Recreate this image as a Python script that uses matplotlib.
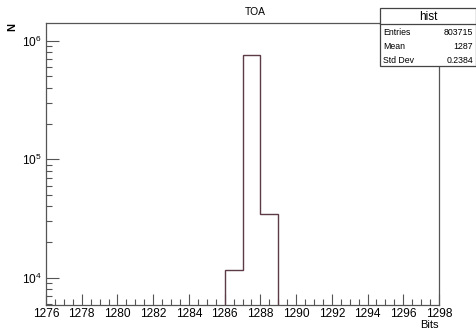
import numpy as np
import matplotlib
matplotlib.use("Agg")
import matplotlib.pyplot as plt
from matplotlib.ticker import MultipleLocator, LogLocator, FuncFormatter

plt.rcParams['font.family'] = ['Liberation Sans', 'DejaVu Sans']
plt.rcParams['mathtext.fontset'] = 'custom'
plt.rcParams['mathtext.rm'] = 'Liberation Sans'
plt.rcParams['mathtext.it'] = 'Liberation Sans'

# Histogram contents (TOA, in bits)
bin_edges = [1286, 1287, 1288, 1289]
bin_counts = [11600, 757315, 34800]

title = "TOA"
hist_name = "hist"
stat_labels = ["Entries", "Mean", "Std Dev"]
stat_values = ["803715", "1287", "0.2384"]

line_col = "#5c3a46"
frame_col = "#555555"

W, H = 477, 331
fig = plt.figure(figsize=(W/100, H/100), dpi=100)
ax = fig.add_axes([46/W, 1-305/H, (439-46)/W, (305-23)/H])

# step outline of the histogram, dropping to the bottom edge
ymin, ymax = 5.9e3, 1.41e6
xs = [bin_edges[0]]
ys = [ymin]
for i, c in enumerate(bin_counts):
    xs += [bin_edges[i], bin_edges[i+1]]
    ys += [c, c]
xs.append(bin_edges[-1])
ys.append(ymin)
ax.plot(xs, ys, color=line_col, lw=1.0, solid_joinstyle='miter')

ax.set_xlim(1276, 1298)
ax.set_yscale('log')
ax.set_ylim(ymin, ymax)

for s in ax.spines.values():
    s.set_color(frame_col)
    s.set_linewidth(0.9)

ax.xaxis.set_major_locator(MultipleLocator(2))
ax.xaxis.set_minor_locator(MultipleLocator(0.5))
ax.yaxis.set_major_locator(LogLocator(base=10, numticks=10))
ax.yaxis.set_minor_locator(LogLocator(base=10, subs=np.arange(2, 10), numticks=20))
ax.yaxis.set_minor_formatter(FuncFormatter(lambda v, p: ""))
ax.yaxis.set_major_formatter(FuncFormatter(lambda v, p: r"$10^{%d}$" % round(np.log10(v))))

ax.tick_params(axis='both', which='both', direction='in', color=frame_col,
               top=False, right=False, labelsize=8.6, labelcolor='black')
ax.tick_params(axis='x', which='major', length=8, width=0.8, pad=2.5)
ax.tick_params(axis='x', which='minor', length=4, width=0.8)
ax.tick_params(axis='y', which='major', length=9, width=0.8, pad=3)
ax.tick_params(axis='y', which='minor', length=4.5, width=0.8)

fig.text(255/W, 1-12/H, title, ha='center', va='center', fontsize=7.4)
fig.text(439/W, 1-325.5/H, "Bits", ha='right', va='center', fontsize=8)
fig.text(12/W, 1-27/H, "N", ha='center', va='center', fontsize=8,
         rotation=90, fontweight='bold')

# statistics box
bx0, bx1, by0, by1 = 380, 476.5, 8, 66
box = plt.Rectangle((bx0/W, 1-by1/H), (bx1-bx0)/W, (by1-by0)/H,
                    transform=fig.transFigure, facecolor='white',
                    edgecolor='#444444', lw=0.9, zorder=5)
fig.patches.append(box)
fig.lines.append(plt.Line2D([bx0/W, bx1/W], [1-24.3/H, 1-24.3/H],
                            transform=fig.transFigure, color='#444444', lw=0.9, zorder=6))
fig.text((bx0+bx1)/2/W, 1-17/H, hist_name, ha='center', va='center',
         fontsize=8.5, zorder=7)
for i, (lab, val) in enumerate(zip(stat_labels, stat_values)):
    yy = 1-(32.7+i*13.7)/H
    fig.text(383/W, yy, lab, ha='left', va='center', fontsize=6.3, zorder=7)
    fig.text(473/W, yy, val, ha='right', va='center', fontsize=6.3, zorder=7)

fig.savefig("out.png", dpi=100)
